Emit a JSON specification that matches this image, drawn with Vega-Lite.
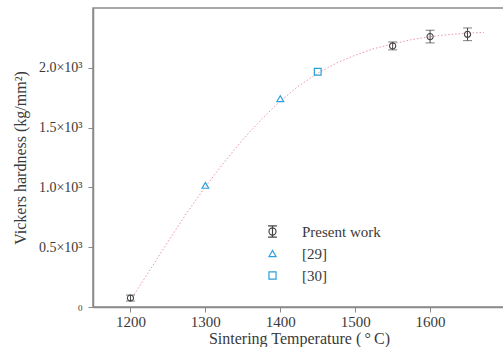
{
  "$schema": "https://vega.github.io/schema/vega-lite/v6.json",
  "autosize": "none",
  "width": 412,
  "height": 299,
  "padding": {"left": 93, "top": 8, "right": 0, "bottom": 40},
  "background": "white",
  "config": {
    "font": "Liberation Serif",
    "view": {"stroke": "#8a8a8a", "strokeWidth": 1.5},
    "legend": {"labelFont": "Liberation Serif"},
    "axis": {
      "labelFont": "Liberation Serif",
      "titleFont": "Liberation Serif",
      "labelColor": "#3a3a3a",
      "titleColor": "#3a3a3a",
      "domainColor": "#8a8a8a",
      "domainWidth": 1.5,
      "tickColor": "#8a8a8a",
      "tickSize": 5,
      "grid": false,
      "titleFontWeight": "normal",
      "titleFontSize": 16,
      "labelFontSize": 14
    }
  },
  "datasets": {
    "pts": [
      {"T": 1200, "H": 75, "lo": 50, "hi": 100, "src": "Present work"},
      {"T": 1550, "H": 2183, "lo": 2150, "hi": 2216, "src": "Present work"},
      {"T": 1600, "H": 2261, "lo": 2208, "hi": 2314, "src": "Present work"},
      {"T": 1650, "H": 2280, "lo": 2227, "hi": 2333, "src": "Present work"},
      {"T": 1300, "H": 1017, "src": "[29]"},
      {"T": 1400, "H": 1742, "src": "[29]"},
      {"T": 1450, "H": 1967, "src": "[30]"}
    ],
    "curve": [
      {"T": 1200, "H": 55},
      {"T": 1225, "H": 300},
      {"T": 1250, "H": 545},
      {"T": 1275, "H": 785},
      {"T": 1300, "H": 1005},
      {"T": 1325, "H": 1210},
      {"T": 1350, "H": 1400},
      {"T": 1375, "H": 1570},
      {"T": 1400, "H": 1722},
      {"T": 1425, "H": 1850},
      {"T": 1450, "H": 1955},
      {"T": 1475, "H": 2040},
      {"T": 1500, "H": 2105},
      {"T": 1525, "H": 2160},
      {"T": 1550, "H": 2200},
      {"T": 1575, "H": 2235},
      {"T": 1600, "H": 2260},
      {"T": 1625, "H": 2278},
      {"T": 1650, "H": 2290},
      {"T": 1672, "H": 2296}
    ]
  },
  "encoding": {
    "x": {
      "type": "quantitative",
      "scale": {"domain": [1150, 1700], "nice": false, "zero": false},
      "axis": {
        "title": "Sintering Temperature (\u2009°\u2009C)",
        "values": [1200, 1300, 1400, 1500, 1600],
        "format": "d",
        "labelFontSize": 15,
        "labelPadding": 2,
        "titlePadding": 1
      }
    },
    "y": {
      "type": "quantitative",
      "scale": {"domain": [0, 2500], "nice": false},
      "axis": {
        "title": "Vickers hardness (kg/mm²)",
        "values": [0, 500, 1000, 1500, 2000],
        "labelExpr": "datum.value == 0 ? '0' : format(datum.value / 1000, '.1f') + '×10³'",
        "labelFontSize": {"condition": {"test": "datum.value == 0", "value": 9}, "value": 14},
        "labelPadding": 6,
        "titlePadding": 10
      }
    }
  },
  "layer": [
    {
      "data": {"name": "curve"},
      "mark": {"type": "line", "color": "#e88a9a", "strokeWidth": 1, "strokeDash": [1.5, 2], "opacity": 0.9},
      "encoding": {"x": {"field": "T"}, "y": {"field": "H"}}
    },
    {
      "data": {"name": "pts"},
      "transform": [{"filter": "datum.lo != null"}],
      "mark": {"type": "rule", "color": "#444", "strokeWidth": 1},
      "encoding": {"x": {"field": "T"}, "y": {"field": "lo"}, "y2": {"field": "hi"}}
    },
    {
      "data": {"name": "pts"},
      "transform": [{"filter": "datum.lo != null"}],
      "mark": {"type": "tick", "orient": "horizontal", "color": "#444", "size": 9, "thickness": 1},
      "encoding": {"x": {"field": "T"}, "y": {"field": "lo"}}
    },
    {
      "data": {"name": "pts"},
      "transform": [{"filter": "datum.lo != null"}],
      "mark": {"type": "tick", "orient": "horizontal", "color": "#444", "size": 9, "thickness": 1},
      "encoding": {"x": {"field": "T"}, "y": {"field": "hi"}}
    },
    {
      "data": {"name": "pts"},
      "transform": [{"filter": "datum.lo != null"}],
      "mark": {"type": "point", "shape": "circle", "filled": false, "strokeWidth": 1.1, "color": "#444", "opacity": 1, "size": 38},
      "encoding": {"x": {"field": "T"}, "y": {"field": "H"}}
    },
    {
      "data": {"name": "pts"},
      "transform": [{"filter": "datum.lo == null"}],
      "mark": {"type": "point", "filled": false, "strokeWidth": 1.2, "opacity": 1},
      "encoding": {
        "x": {"field": "T"},
        "y": {"field": "H"},
        "shape": {
          "field": "src",
          "type": "nominal",
          "scale": {"domain": ["Present work", "[29]", "[30]"], "range": ["M-1.25,-1.6H1.25M0,-1.6V1.6M-1.25,1.6H1.25M1,0A1,1,0,1,1,-1,0A1,1,0,1,1,1,0", "triangle-up", "square"]}
        },
        "color": {
          "field": "src",
          "type": "nominal",
          "scale": {"domain": ["Present work", "[29]", "[30]"], "range": ["#444444", "#2b9fd9", "#2b9fd9"]},
          "legend": {
            "title": null,
            "orient": "none",
            "legendX": 172,
            "legendY": 216,
            "padding": 0,
            "labelFont": "Liberation Serif",
            "labelFontSize": 15,
            "labelColor": "#3a3a3a",
            "labelOffset": 22,
            "rowPadding": 6,
            "symbolSize": 50,
            "symbolStrokeWidth": 1.2
          }
        },
        "size": {"value": 45}
      }
    }
  ]
}
